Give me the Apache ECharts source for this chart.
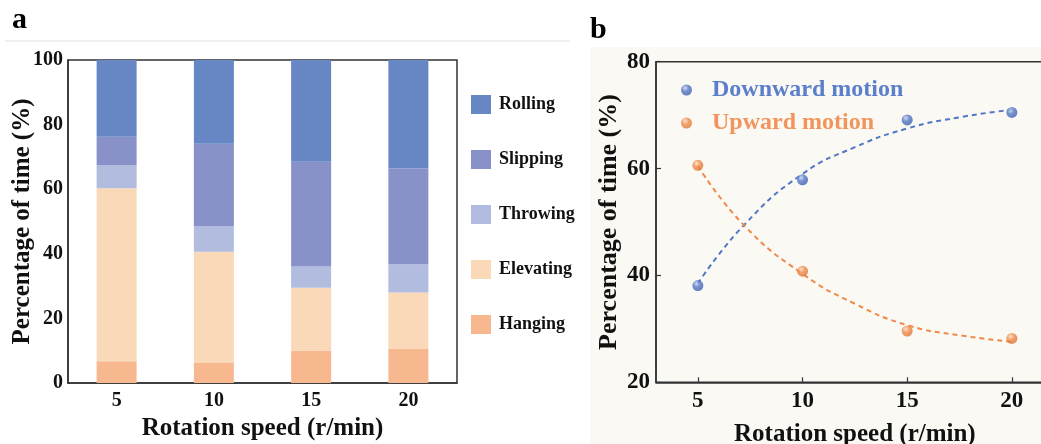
<!DOCTYPE html>
<html>
<head>
<meta charset="utf-8">
<script src="https://cdn.jsdelivr.net/npm/echarts@6/dist/echarts.min.js"></script>
<style>html,body{margin:0;padding:0;background:#fff;}#c{width:1041px;height:444px;}</style>
</head>
<body>
<div id="c"></div>
<script>
// ---- Panel a data ----
const categories = ['5', '10', '15', '20'];
const hanging   = [6.7, 6.2, 10.1, 10.5];
const elevating = [53.6, 34.4, 19.4, 17.5];
const throwing  = [7.2, 8.0, 6.6, 8.8];
const slipping  = [8.7, 25.5, 32.4, 29.6];
const rolling   = [23.8, 25.9, 31.5, 33.6];
const yTicksA = [0, 20, 40, 60, 80, 100];

// ---- Panel b data ----
const speeds   = [5, 10, 15, 20];
const downward = [38.1, 57.9, 69.1, 70.5];
const upward   = [60.6, 40.8, 29.6, 28.2];
const downFitX = [5, 7.2, 10, 12.5, 15, 17.5, 20];
const downFitY = [38.5, 49.4, 59.0, 64.0, 67.5, 69.6, 71.0];
const upFitX   = [5, 7.2, 10, 12.5, 15, 17.5, 20];
const upFitY   = [60.5, 49.4, 40.3, 34.7, 30.7, 28.8, 27.6];
const xTicksB  = [5, 10, 15, 20];

const FONT = '"Liberation Serif", "Times New Roman", serif';
const AX = '#333';
const cRolling = '#6687C4', cSlipping = '#8992C8', cThrowing = '#B1BCDF', cElevating = '#FAD9B9', cHanging = '#F8B88F';
const blue = '#5277C6', orange = '#F0894A';

function ball(c0, c1, c2) {
  return {type: 'radial', x: 0.38, y: 0.32, r: 0.7,
    colorStops: [{offset: 0, color: c0}, {offset: 0.45, color: c1}, {offset: 1, color: c2}]};
}
const zip = (a, b) => a.map((v, i) => [v, b[i]]);

const chart = echarts.init(document.getElementById('c'), null, {renderer: 'canvas'});
const barSeries = [
  ['Hanging', hanging, cHanging],
  ['Elevating', elevating, cElevating],
  ['Throwing', throwing, cThrowing],
  ['Slipping', slipping, cSlipping],
  ['Rolling', rolling, cRolling]
].map(([name, data, color]) => ({
  name, type: 'bar', stack: 'a', xAxisIndex: 0, yAxisIndex: 0,
  data, barWidth: 40, itemStyle: {color}, silent: true
}));

chart.setOption({
  animation: false,
  backgroundColor: '#fff',
  graphic: [
    {type: 'rect', z: -10, silent: true, shape: {x: 590, y: 47, width: 460, height: 400}, style: {fill: '#FAF9F4'}},
    {type: 'rect', z: -10, silent: true, shape: {x: 5, y: 40, width: 565, height: 2}, style: {fill: '#F0F0F0'}},
    {type: 'text', left: 12, top: 5, style: {text: 'a', font: 'bold 30px ' + FONT, fill: '#000'}},
    {type: 'text', left: 590, top: 15, style: {text: 'b', font: 'bold 30px ' + FONT, fill: '#000'}}
  ],
  grid: [
    {left: 68, top: 60, width: 389, height: 323, outerBoundsMode: 'none', containLabel: false,
      show: true, borderColor: AX, borderWidth: 1.5, backgroundColor: 'transparent'},
    {left: 656, top: 61.7, width: 397.7, height: 320.6, outerBoundsMode: 'none', containLabel: false,
      show: true, borderColor: AX, borderWidth: 1.5, backgroundColor: 'transparent'}
  ],
  legend: [
    {
      orient: 'vertical', left: 466, top: 90, itemWidth: 20, itemHeight: 19, itemGap: 36,
      icon: 'rect', selectedMode: false,
      data: ['Rolling', 'Slipping', 'Throwing', 'Elevating', 'Hanging'],
      textStyle: {fontFamily: FONT, fontWeight: 'bold', fontSize: 18, color: '#111', lineHeight: 19, padding: [0, 0, 0, 3]}
    },
    {
      orient: 'vertical', left: 676, top: 73, itemWidth: 11, itemHeight: 11, itemGap: 9,
      icon: 'circle', selectedMode: false,
      data: [
        {name: 'Downward motion', textStyle: {color: '#5B7FCB'}},
        {name: 'Upward motion', textStyle: {color: '#F2955C'}}
      ],
      textStyle: {fontFamily: FONT, fontWeight: 'bold', fontSize: 24, lineHeight: 24, padding: [0, 0, 0, 15]}
    }
  ],
  xAxis: [
    {
      type: 'category', gridIndex: 0, data: categories,
      axisLine: {lineStyle: {color: AX, width: 1.5}}, axisTick: {show: false},
      axisLabel: {fontFamily: FONT, fontWeight: 'bold', fontSize: 20, color: '#111', margin: 8},
      name: 'Rotation speed (r/min)', nameLocation: 'middle', nameGap: 33, nameMoveOverlap: false,
      nameTextStyle: {fontFamily: FONT, fontWeight: 'bold', fontSize: 25, color: '#111'}
    },
    {
      type: 'value', gridIndex: 1, min: 3, max: 22,
      axisLine: {lineStyle: {color: AX, width: 1.5}},
      axisTick: {inside: true, length: 5, lineStyle: {color: AX, width: 1.2}, customValues: xTicksB},
      axisLabel: {fontFamily: FONT, fontWeight: 'bold', fontSize: 23, color: '#111', margin: 7, customValues: xTicksB},
      splitLine: {show: false},
      name: 'Rotation speed (r/min)', nameLocation: 'middle', nameGap: 40, nameMoveOverlap: false,
      nameTextStyle: {fontFamily: FONT, fontWeight: 'bold', fontSize: 25, color: '#111'}
    }
  ],
  yAxis: [
    {
      type: 'value', gridIndex: 0, min: 0, max: 100, interval: 20,
      axisLine: {show: true, lineStyle: {color: AX, width: 1.5}}, axisTick: {show: false},
      splitLine: {show: false},
      axisLabel: {fontFamily: FONT, fontWeight: 'bold', fontSize: 20, color: '#111', margin: 5,
        customValues: yTicksA},
      name: 'Percentage of time (%)', nameLocation: 'middle', nameGap: 33, nameMoveOverlap: false,
      nameTextStyle: {fontFamily: FONT, fontWeight: 'bold', fontSize: 25, color: '#111'}
    },
    {
      type: 'value', gridIndex: 1, min: 20, max: 80, interval: 20,
      axisLine: {show: true, lineStyle: {color: AX, width: 1.5}},
      axisTick: {inside: true, length: 5, lineStyle: {color: AX, width: 1.2}},
      splitLine: {show: false},
      axisLabel: {fontFamily: FONT, fontWeight: 'bold', fontSize: 23, color: '#111', margin: 6},
      name: 'Percentage of time (%)', nameLocation: 'middle', nameGap: 34, nameMoveOverlap: false,
      nameTextStyle: {fontFamily: FONT, fontWeight: 'bold', fontSize: 26, color: '#111'}
    }
  ],
  series: barSeries.concat([
    {
      name: 'downFit', type: 'line', xAxisIndex: 1, yAxisIndex: 1, smooth: 0.5,
      data: zip(downFitX, downFitY), showSymbol: false, symbol: 'none', silent: true,
      lineStyle: {color: blue, width: 2, type: [5, 4]}, z: 3
    },
    {
      name: 'upFit', type: 'line', xAxisIndex: 1, yAxisIndex: 1, smooth: 0.5,
      data: zip(upFitX, upFitY), showSymbol: false, symbol: 'none', silent: true,
      lineStyle: {color: orange, width: 2, type: [5, 4]}, z: 3
    },
    {
      name: 'Downward motion', type: 'scatter', xAxisIndex: 1, yAxisIndex: 1,
      data: zip(speeds, downward), symbolSize: 11, z: 5, silent: true,
      itemStyle: {color: ball('#C9D5F2', '#5677C6', '#3F60AE')}
    },
    {
      name: 'Upward motion', type: 'scatter', xAxisIndex: 1, yAxisIndex: 1,
      data: zip(speeds, upward), symbolSize: 11, z: 5, silent: true,
      itemStyle: {color: ball('#FCDCC2', '#F08C4C', '#DD7536')}
    }
  ])
});
</script>
</body>
</html>
